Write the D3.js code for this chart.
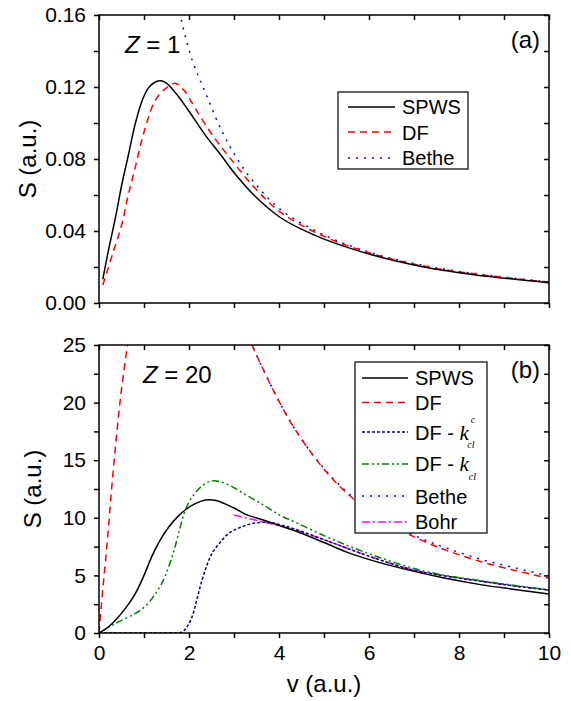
<!DOCTYPE html>
<html>
<head>
<meta charset="utf-8">
<script src="https://cdn.jsdelivr.net/npm/d3@7"></script>
<style>
  body { margin: 0; background: #fff; }
  text { font-family: "Liberation Sans", Arial, sans-serif; fill: #000; }
</style>
</head>
<body>
<svg id="chart" width="571" height="701"></svg>
<script>
// ---- Panel (a): Z = 1 ----
const spws1V = [0.085, 0.2, 0.37, 0.5, 0.66, 0.8, 0.96, 1.1, 1.25, 1.38, 1.5, 1.77, 2.0, 2.37, 2.7, 3.03, 3.48, 4.03, 4.5, 5.0, 6.1, 7.22, 8.33, 10];
const spws1S = [0.0132, 0.028, 0.048, 0.065, 0.083, 0.099, 0.1125, 0.1195, 0.1228, 0.1235, 0.1222, 0.1146, 0.1065, 0.093, 0.0825, 0.0715, 0.059, 0.0475, 0.041, 0.0355, 0.0265, 0.0200, 0.0157, 0.0113];

const df1V = [0.085, 0.3, 0.51, 0.65, 0.81, 1.0, 1.26, 1.5, 1.70, 1.9, 2.14, 2.5, 2.88, 3.48, 4.03, 5.0, 6.1, 7.22, 8.33, 10];
const df1S = [0.010, 0.027, 0.044, 0.060, 0.0757, 0.095, 0.113, 0.1195, 0.122, 0.1178, 0.108, 0.094, 0.0815, 0.0635, 0.0505, 0.037, 0.0272, 0.0205, 0.0162, 0.0116];

const bethe1V = [1.75, 1.83, 2.07, 2.37, 2.74, 3.11, 3.48, 4.03, 5.0, 6.1, 7.22, 8.33, 10];
const bethe1S = [0.166, 0.157, 0.135, 0.1165, 0.095, 0.0785, 0.066, 0.052, 0.0378, 0.0275, 0.0208, 0.0164, 0.0117];

// ---- Panel (b): Z = 20 ----
const spws20V = [0, 0.2, 0.37, 0.6, 0.81, 1.0, 1.18, 1.35, 1.55, 1.75, 1.92, 2.15, 2.37, 2.6, 3.0, 3.26, 3.7, 4.03, 4.37, 5.0, 5.52, 6.2, 7.0, 7.7, 8.48, 9.2, 10];
const spws20S = [0, 0.5, 1.13, 2.2, 3.44, 5.0, 6.7, 8.0, 9.2, 10.1, 10.7, 11.25, 11.55, 11.5, 10.85, 10.3, 9.75, 9.3, 8.85, 7.85, 7.0, 6.15, 5.35, 4.75, 4.2, 3.8, 3.39];

// DF leaves the top of the frame between the two pieces (null = gap)
const df20V = [0, 0.05, 0.18, 0.33, 0.48, 0.63, 0.7, null, 3.3, 3.40, 3.77, 4.07, 4.37, 4.92, 5.52, 6.3, 7.14, 7.74, 8.48, 9.22, 10];
const df20S = [0, 2.3, 7.8, 14.7, 20.5, 25, 27.5, null, 26, 25, 21.9, 19.6, 17.6, 14.6, 12.1, 9.8, 8.1, 7.15, 6.2, 5.45, 4.75];

const dfkc20V = [0, 1.6, 1.85, 1.95, 2.07, 2.18, 2.29, 2.4, 2.51, 2.7, 2.88, 3.1, 3.4, 3.77, 4.03, 4.37, 5.0, 5.52, 6.2, 7.0, 7.7, 8.48, 9.2, 10];
const dfkc20S = [0, 0.02, 0.1, 0.5, 1.42, 3.0, 4.6, 5.9, 6.9, 7.9, 8.65, 9.1, 9.5, 9.6, 9.4, 9.0, 8.1, 7.35, 6.4, 5.45, 4.95, 4.5, 4.1, 3.73];

const dfk20V = [0, 0.37, 0.81, 1.05, 1.26, 1.42, 1.55, 1.67, 1.77, 1.92, 2.07, 2.3, 2.51, 2.8, 3.26, 3.7, 4.03, 4.37, 5.0, 5.52, 6.2, 7.0, 7.7, 8.48, 9.2, 10];
const dfk20S = [0, 0.84, 1.71, 2.4, 3.44, 4.5, 5.76, 7.2, 8.65, 10.7, 11.8, 12.8, 13.2, 13.0, 12.0, 11.0, 10.2, 9.6, 8.45, 7.6, 6.6, 5.6, 5.0, 4.55, 4.15, 3.73];

const bethe20V = [3.3, 3.40, 3.77, 4.07, 4.37, 4.92, 5.52, 6.3, 7.14, 7.74, 8.48, 9.22, 10];
const bethe20S = [26, 25, 21.9, 19.6, 17.6, 14.65, 12.2, 9.95, 8.25, 7.35, 6.4, 5.68, 4.95];

const bohr20V = [3.0, 3.3, 3.63, 4.0, 4.37, 5.0, 5.52, 6.2, 7.0, 7.7, 8.48, 9.2, 10];
const bohr20S = [10.24, 9.95, 9.66, 9.3, 8.94, 8.1, 7.35, 6.4, 5.45, 4.95, 4.5, 4.1, 3.73];

// tick values
const xTicks = d3.range(0, 11, 1);
const yTicksA = d3.range(0, 0.1601, 0.02);
const yTicksB = d3.range(0, 25.01, 2.5);

const svg = d3.select("#chart");
const left = 99, right = 549;

const x = d3.scaleLinear().domain([0, 10]).range([left, right]);

const zip = (vs, ss) => vs.map((v, i) => ({ v: v, s: ss[i] }));

// line styles
const styles = {
    spws:  { color: "#000000", dash: null },
    df:    { color: "#ff0000", dash: "7,5" },
    dfkc:  { color: "#000080", dash: "3,2" },
    dfk:   { color: "#008000", dash: "7,3,2,3,2,3" },
    bethe: { color: "#0000ff", dash: "2,6" },
    bohr:  { color: "#ff00ff", dash: "8,3,2,3" }
};

function drawPanel(cfg) {
    const y = d3.scaleLinear().domain(cfg.yDomain).range([cfg.bottom, cfg.top]);
    const g = svg.append("g");

    g.append("clipPath").attr("id", cfg.id + "-clip")
        .append("rect")
        .attr("x", left).attr("y", cfg.top)
        .attr("width", right - left).attr("height", cfg.bottom - cfg.top);

    const line = d3.line()
        .defined(d => d.v !== null)
        .x(d => x(d.v))
        .y(d => y(d.s))
        .curve(d3.curveCatmullRom.alpha(0.5));

    const gLines = g.append("g").attr("clip-path", `url(#${cfg.id}-clip)`);
    cfg.series.forEach(sr => {
        const st = styles[sr.key];
        gLines.append("path")
            .datum(zip(sr.v, sr.s))
            .attr("d", line)
            .attr("fill", "none")
            .attr("stroke", st.color)
            .attr("stroke-width", 1.5)
            .attr("stroke-dasharray", st.dash);
    });

    // bottom axis
    const xb = g.append("g")
        .attr("transform", `translate(0,${cfg.bottom})`)
        .call(d3.axisBottom(x).tickValues(xTicks).tickSize(5).tickPadding(7).tickSizeOuter(0)
            .tickFormat(d => (cfg.xLabels && d % 2 === 0) ? d : ""));
    // top axis (inward)
    const xt = g.append("g")
        .attr("transform", `translate(0,${cfg.top})`)
        .call(d3.axisTop(x).tickValues(xTicks).tickSize(-5).tickSizeOuter(0).tickFormat(""));
    // left axis
    const yl = g.append("g")
        .attr("transform", `translate(${left},0)`)
        .call(d3.axisLeft(y).tickValues(cfg.yTicks).tickSize(5).tickPadding(8).tickSizeOuter(0)
            .tickFormat(cfg.yFormat));
    // right axis (inward)
    const yr = g.append("g")
        .attr("transform", `translate(${right},0)`)
        .call(d3.axisRight(y).tickValues(cfg.yTicks).tickSize(-5).tickSizeOuter(0).tickFormat(""));

    [xb, xt, yl, yr].forEach(a => {
        a.select(".domain").remove();
        a.selectAll("line").attr("stroke", "#000").attr("stroke-width", 1.5);
        a.selectAll("text").style("font-size", "21px")
            .style("font-family", "'Liberation Sans', Arial, sans-serif").attr("fill", "#000");
    });

    // frame
    g.append("rect")
        .attr("x", left).attr("y", cfg.top)
        .attr("width", right - left).attr("height", cfg.bottom - cfg.top)
        .attr("fill", "none").attr("stroke", "#000").attr("stroke-width", 1.5);

    // y label
    g.append("text")
        .attr("transform", `translate(${cfg.yLabelX},${(cfg.top + cfg.bottom) / 2}) rotate(-90)`)
        .attr("text-anchor", "middle")
        .style("font-size", "24px")
        .text("S (a.u.)");

    // Z label
    const zt = g.append("text")
        .attr("x", cfg.zX).attr("y", cfg.top + 38)
        .style("font-size", "24px");
    zt.append("tspan").style("font-style", "italic").text("Z");
    zt.append("tspan").text(" = " + cfg.z);

    // panel letter
    g.append("text")
        .attr("x", 540).attr("y", cfg.top + 33)
        .attr("text-anchor", "end")
        .style("font-size", "24px")
        .text(cfg.letter);

    // legend
    const lg = cfg.legend;
    g.append("rect")
        .attr("x", lg.x).attr("y", lg.y)
        .attr("width", lg.w).attr("height", lg.h)
        .attr("fill", "#fff").attr("stroke", "#000").attr("stroke-width", 1.2);
    lg.items.forEach(it => {
        const st = styles[it.key];
        g.append("line")
            .attr("x1", lg.x1).attr("x2", lg.x2)
            .attr("y1", it.y).attr("y2", it.y)
            .attr("stroke", st.color).attr("stroke-width", 1.5)
            .attr("stroke-dasharray", st.dash);
        const t = g.append("text")
            .attr("x", lg.tx).attr("y", it.base)
            .style("font-size", "20px");
        t.append("tspan").text(it.label);
        if (it.k) {
            t.append("tspan")
                .style("font-family", "'Liberation Serif', 'Times New Roman', serif")
                .style("font-style", "italic")
                .style("font-size", "21px")
                .text("k");
            if (it.k === "c") {
                t.append("tspan").attr("dx", 2).attr("dy", -17)
                    .style("font-family", "'Liberation Serif', serif").style("font-style", "italic")
                    .style("font-size", "10px").text("c");
                t.append("tspan").attr("dx", -8).attr("dy", 25)
                    .style("font-family", "'Liberation Serif', serif").style("font-style", "italic")
                    .style("font-size", "10px").text("cl");
            } else {
                t.append("tspan").attr("dx", 0).attr("dy", 9)
                    .style("font-family", "'Liberation Serif', serif").style("font-style", "italic")
                    .style("font-size", "10px").text("cl");
            }
        }
    });
}

drawPanel({
    id: "a", top: 15, bottom: 303,
    yDomain: [0, 0.16], yTicks: yTicksA,
    yFormat: d => (Math.round(d * 100) % 4 === 0) ? d3.format(".2f")(d) : "",
    xLabels: false, yLabelX: 36, zX: 125, z: "1", letter: "(a)",
    series: [
        { key: "bethe", v: bethe1V, s: bethe1S },
        { key: "df", v: df1V, s: df1S },
        { key: "spws", v: spws1V, s: spws1S }
    ],
    legend: {
        x: 338, y: 92, w: 130, h: 77, x1: 348, x2: 395, tx: 402,
        items: [
            { key: "spws", label: "SPWS", y: 107, base: 114 },
            { key: "df", label: "DF", y: 132, base: 139.5 },
            { key: "bethe", label: "Bethe", y: 158, base: 165 }
        ]
    }
});

drawPanel({
    id: "b", top: 345, bottom: 633,
    yDomain: [0, 25], yTicks: yTicksB,
    yFormat: d => (d % 5 === 0) ? d : "",
    xLabels: true, yLabelX: 41, zX: 143, z: "20", letter: "(b)",
    series: [
        { key: "bethe", v: bethe20V, s: bethe20S },
        { key: "df", v: df20V, s: df20S },
        { key: "bohr", v: bohr20V, s: bohr20S },
        { key: "dfkc", v: dfkc20V, s: dfkc20S },
        { key: "dfk", v: dfk20V, s: dfk20S },
        { key: "spws", v: spws20V, s: spws20S }
    ],
    legend: {
        x: 355, y: 362, w: 132, h: 171, x1: 362, x2: 408, tx: 415,
        items: [
            { key: "spws", label: "SPWS", y: 378, base: 385 },
            { key: "df", label: "DF", y: 402.5, base: 410 },
            { key: "dfkc", label: "DF - ", k: "c", y: 432, base: 440 },
            { key: "dfk", label: "DF - ", k: "plain", y: 464, base: 471 },
            { key: "bethe", label: "Bethe", y: 496, base: 503.5 },
            { key: "bohr", label: "Bohr", y: 522, base: 528.5 }
        ]
    }
});

// x label
svg.append("text")
    .attr("x", (left + right) / 2).attr("y", 692)
    .attr("text-anchor", "middle")
    .style("font-size", "24px")
    .text("v (a.u.)");
</script>
</body>
</html>
